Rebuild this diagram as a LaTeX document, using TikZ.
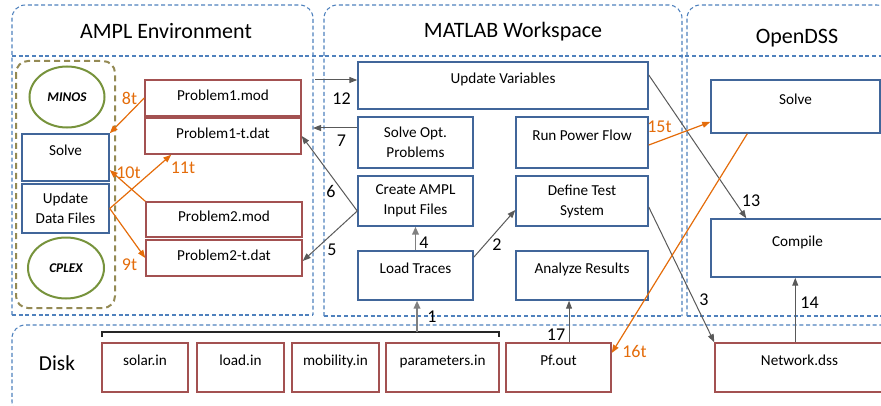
\documentclass[tikz,border=0pt]{standalone}
\usepackage{fontspec}
\setmainfont{Carlito}
\usetikzlibrary{arrows.meta,shapes.geometric}
\definecolor{lanec}{HTML}{4F81BD}
\definecolor{boxc}{HTML}{41669A}
\definecolor{filec}{HTML}{A35151}
\definecolor{olivec}{HTML}{948A54}
\definecolor{greenc}{HTML}{77933C}
\definecolor{orangec}{HTML}{E46C0A}
\definecolor{arrc}{HTML}{595959}
\definecolor{arrl}{HTML}{808080}
\begin{document}
\begin{tikzpicture}[x=0.75pt,y=-0.75pt,
  lane/.style={draw=lanec,line width=0.8pt,dash pattern=on 3pt off 2pt},
  sz/.style 2 args={minimum width=#1*0.75pt,minimum height=#2*0.75pt},
  blbox/.style={draw=boxc,line width=1.1pt,inner sep=0pt,font=\fontsize{11.4}{15}\selectfont},
  flbox/.style={draw=filec,line width=1.1pt,inner sep=0pt,font=\fontsize{11.4}{15}\selectfont},
  upper/.style={text height=8pt,text depth=11pt},
  mid/.style={text height=8pt,text depth=4.5pt},
  two/.style={align=center},
  solver/.style={ellipse,draw=greenc,line width=1.5pt,inner sep=0pt,font=\fontsize{10}{12}\selectfont\bfseries\itshape},
  ttl/.style={anchor=base,inner sep=0pt,font=\fontsize{16.5}{18}\selectfont},
  num/.style={inner sep=0pt,font=\fontsize{13.5}{15}\selectfont},
  onum/.style={num,text=orangec},
  arr/.style={draw=arrc,line width=0.75pt,-{Triangle[length=6pt,width=4.5pt]}},
  arrb/.style={draw=arrl,line width=1.3pt,-{Triangle[length=6pt,width=5pt]}},
  oarr/.style={draw=orangec,line width=0.9pt,-{Triangle[length=6pt,width=4.5pt]}}]
\useasboundingbox (0,0) rectangle (881,406);
\clip (0,0) rectangle (881,406);
% lanes
\draw[lane,rounded corners=10pt] (12,315) -- (12,5) -- (313,5) -- (313,315);
\draw[lane] (12,315) -- (313,315);
\draw[lane,rounded corners=10pt] (324,316) -- (324,5) -- (682,5) -- (682,316);
\draw[lane] (324,316) -- (682,316);
\draw[lane,rounded corners=10pt] (687,316) -- (687,5) -- (890,5) -- (890,316);
\draw[lane] (687,316) -- (890,316);
\draw[lane,rounded corners=10pt] (890,325) -- (12,325) -- (12,415) -- (890,415);
\draw[lane] (12,56) -- (881,56);
\node[ttl] (amplttl) at (166,38.5) {AMPL Environment};
\node[ttl] (matttl) at (513,38) {MATLAB Workspace};
\node[ttl] (dssttl) at (797,44) {OpenDSS};
\node[ttl,font=\fontsize{16}{18}\selectfont] (diskttl) at (57,370) {Disk};
% AMPL
\draw[olivec,line width=1.5pt,dash pattern=on 4.5pt off 3pt,rounded corners=9pt] (16,61) rectangle (115,308);
\node[solver,sz={75}{61}] (minos) at (67,97) {MINOS};
\node[solver,sz={76}{61}] (cplex) at (66,268) {CPLEX};
\node[blbox,upper,sz={87}{47}] (asolve) at (65.5,157.5) {Solve};
\node[blbox,two,sz={87}{49}] (aupdate) at (65.5,208.5) {Update\\Data Files};
\node[flbox,mid,sz={156}{36}] (p1mod) at (223,98) {Problem1.mod};
\node[flbox,mid,sz={156}{36}] (p1dat) at (223,136) {Problem1-t.dat};
\node[flbox,mid,sz={156}{35}] (p2mod) at (224,219.5) {Problem2.mod};
\node[flbox,mid,sz={156}{36}] (p2dat) at (224,258) {Problem2-t.dat};
% MATLAB
\node[blbox,upper,sz={290}{47}] (updvar) at (503,85.5) {Update Variables};
\node[blbox,two,sz={115}{51}] (sopt) at (415.5,142.5) {Solve Opt.\\Problems};
\node[blbox,upper,sz={132}{51}] (rpf) at (582,142.5) {Run Power Flow};
\node[blbox,two,sz={115}{50}] (create) at (415.5,201) {Create AMPL\\Input Files};
\node[blbox,two,sz={132}{50}] (define) at (582,201) {Define Test\\System};
\node[blbox,upper,sz={115}{49}] (traces) at (415.5,275.5) {Load Traces};
\node[blbox,upper,sz={132}{49}] (analyze) at (582,275.5) {Analyze Results};
% OpenDSS
\node[blbox,upper,sz={169}{53}] (dsolve) at (795.5,106.5) {Solve};
\node[blbox,upper,sz={173}{58}] (compile) at (797.5,248) {Compile};
% Disk
\node[flbox,upper,sz={86}{49}] (solar) at (145,367.5) {solar.in};
\node[flbox,upper,sz={87}{49}] (load) at (240.5,367.5) {load.in};
\node[flbox,upper,sz={87}{49}] (mobil) at (335.5,367.5) {mobility.in};
\node[flbox,upper,sz={113}{49}] (param) at (442.5,367.5) {parameters.in};
\node[flbox,upper,sz={105}{49}] (pfout) at (558.5,367.5) {Pf.out};
\node[flbox,upper,sz={169}{49}] (netdss) at (799.5,367.5) {Network.dss};
\draw[line width=0.9pt,black!85] (102,337) -- (102,332) -- (499,332) -- (499,337);
\coordinate (brmid) at (417,332);
\coordinate (fr7) at (313,128);
\coordinate (fr12) at (315,80);
% gray arrows
\draw[arrb] (brmid) -- (brmid |- traces.south);
\draw[arr] ([yshift=-5.25pt]traces.north east) -- ([yshift=-6.75pt]define.west);
\draw[arr] ([yshift=-4.5pt]define.east) -- (netdss.north west);
\draw[arrb] (traces.north) -- (create.south);
\draw[arr] ([yshift=-7.5pt]create.west) -- ([yshift=-2.25pt]p2dat.east);
\draw[arr] ([yshift=-7.5pt]create.west) -- (p1dat.east);
\draw[arr] (fr7 -| sopt.west) -- (fr7);
\draw[arr] (fr12) -- (fr12 -| updvar.west);
\draw[arr] ([yshift=7.9pt]updvar.east) -- ([xshift=27pt]compile.north west);
\draw[arr] ([xshift=60.75pt]netdss.north west) coordinate (p14) -- (p14 |- compile.south);
\draw[arr] ([xshift=7.9pt]pfout.north) coordinate (p17) -- (p17 |- analyze.south);
% orange arrows
\draw[oarr] (p1mod.west) -- (asolve.north east);
\draw[oarr] (p2mod.north west) -- ([yshift=-9.4pt]asolve.east);
\draw[oarr] (aupdate.east) -- ([xshift=20.25pt]p1dat.south west);
\draw[oarr] (aupdate.east) -- (p2dat.west);
\draw[oarr] ([yshift=-1.9pt]rpf.east) -- ([yshift=-11.6pt]dsolve.west);
\draw[oarr] ([xshift=27.75pt]dsolve.south west) -- ([yshift=10.9pt]pfout.east);
% labels
\node[num] (n1) at (432,317) {1};
\node[num] (n2) at (497,244.5) {2};
\node[num] (n3) at (704,300) {3};
\node[num] (n4) at (424,242.5) {4};
\node[num] (n5) at (332,249.5) {5};
\node[num] (n6) at (331,191.5) {6};
\node[num] (n7) at (341.5,141) {7};
\node[num] (n12) at (341.5,98.5) {12};
\node[num] (n13) at (751,201) {13};
\node[num] (n14) at (809.5,303) {14};
\node[num] (n17) at (556,334.5) {17};
\node[onum] (o8) at (129.5,98) {8t};
\node[onum] (o9) at (129.5,265) {9t};
\node[onum] (o10) at (128.5,173) {10t};
\node[onum] (o11) at (183,168) {11t};
\node[onum] (o15) at (659.5,127) {15t};
\node[onum] (o16) at (634.5,351.5) {16t};
\end{tikzpicture}
\end{document}
